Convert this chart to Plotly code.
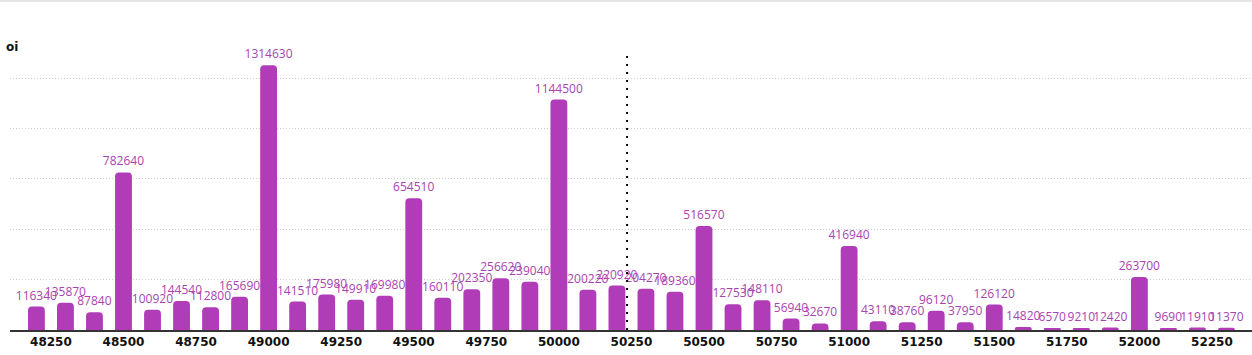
import plotly.graph_objects as go

strikes = [48200, 48300, 48400, 48500, 48600, 48700, 48800, 48900, 49000, 49100,
           49200, 49300, 49400, 49500, 49600, 49700, 49800, 49900, 50000, 50100,
           50200, 50300, 50400, 50500, 50600, 50700, 50800, 50900, 51000, 51100,
           51200, 51300, 51400, 51500, 51600, 51700, 51800, 51900, 52000, 52100,
           52200, 52300]
oi = [116340, 135870, 87840, 782640, 100920, 144540, 112800, 165690, 1314630, 141510,
      175980, 149910, 169980, 654510, 160110, 202350, 256620, 239040, 1144500, 200220,
      220920, 204270, 189360, 516570, 127530, 148110, 56940, 32670, 416940, 43110,
      38760, 96120, 37950, 126120, 14820, 6570, 9210, 12420, 263700, 9690,
      11910, 11370]
tick_vals = [48250, 48500, 48750, 49000, 49250, 49500, 49750, 50000, 50250, 50500,
             50750, 51000, 51250, 51500, 51750, 52000, 52250]
spot = 50235
y_label = "oi"

bar_color = "#b03cb8"
label_color = "#a844b0"

fig = go.Figure()
fig.add_trace(go.Bar(
    x=strikes, y=oi, width=58,
    marker=dict(color=bar_color, cornerradius=4, line=dict(width=0)),
    text=[str(v) for v in oi], textposition="outside", constraintext="none",
    cliponaxis=False,
    textfont=dict(family="Open Sans", size=12, color=label_color),
    hoverinfo="x+y",
))

ymax = max(oi) * 1.05
fig.update_layout(
    width=1252, height=355,
    margin=dict(l=10, r=0, t=52, b=25),
    paper_bgcolor="white", plot_bgcolor="white",
    showlegend=False,
    xaxis=dict(range=[48109, 52388], tickvals=tick_vals,
               ticktext=[str(v) for v in tick_vals],
               showgrid=False, zeroline=False,
               showline=True, linewidth=2, linecolor="#333333",
               ticks="", tickfont=dict(family="DejaVu Sans", size=12, color="#111111", weight="bold")),
    yaxis=dict(range=[0, ymax], dtick=250000, showticklabels=False,
               showgrid=True, gridcolor="#cfcfcf", gridwidth=1, griddash="1px,2px",
               zeroline=False, showline=False, ticks=""),
    shapes=[
        dict(type="line", xref="x", yref="paper", x0=spot, x1=spot, y0=0, y1=1,
             line=dict(color="#000000", width=2, dash="2px,6px"), layer="above"),
        dict(type="line", xref="paper", yref="paper", x0=-0.01, x1=1.0,
             y0=1 + 51 / 278, y1=1 + 51 / 278,
             line=dict(color="#dcdcdc", width=1.5)),
    ],
    annotations=[
        dict(text=y_label, xref="paper", yref="paper", x=-0.005, y=1 + 5 / 278,
             xanchor="left", yanchor="middle", showarrow=False,
             font=dict(family="DejaVu Sans", size=12, color="#111111", weight="bold")),
    ],
)

fig.write_html("out.html", config={"displayModeBar": False},
               post_script="document.body.style.margin='0px';document.body.style.overflow='hidden';")
